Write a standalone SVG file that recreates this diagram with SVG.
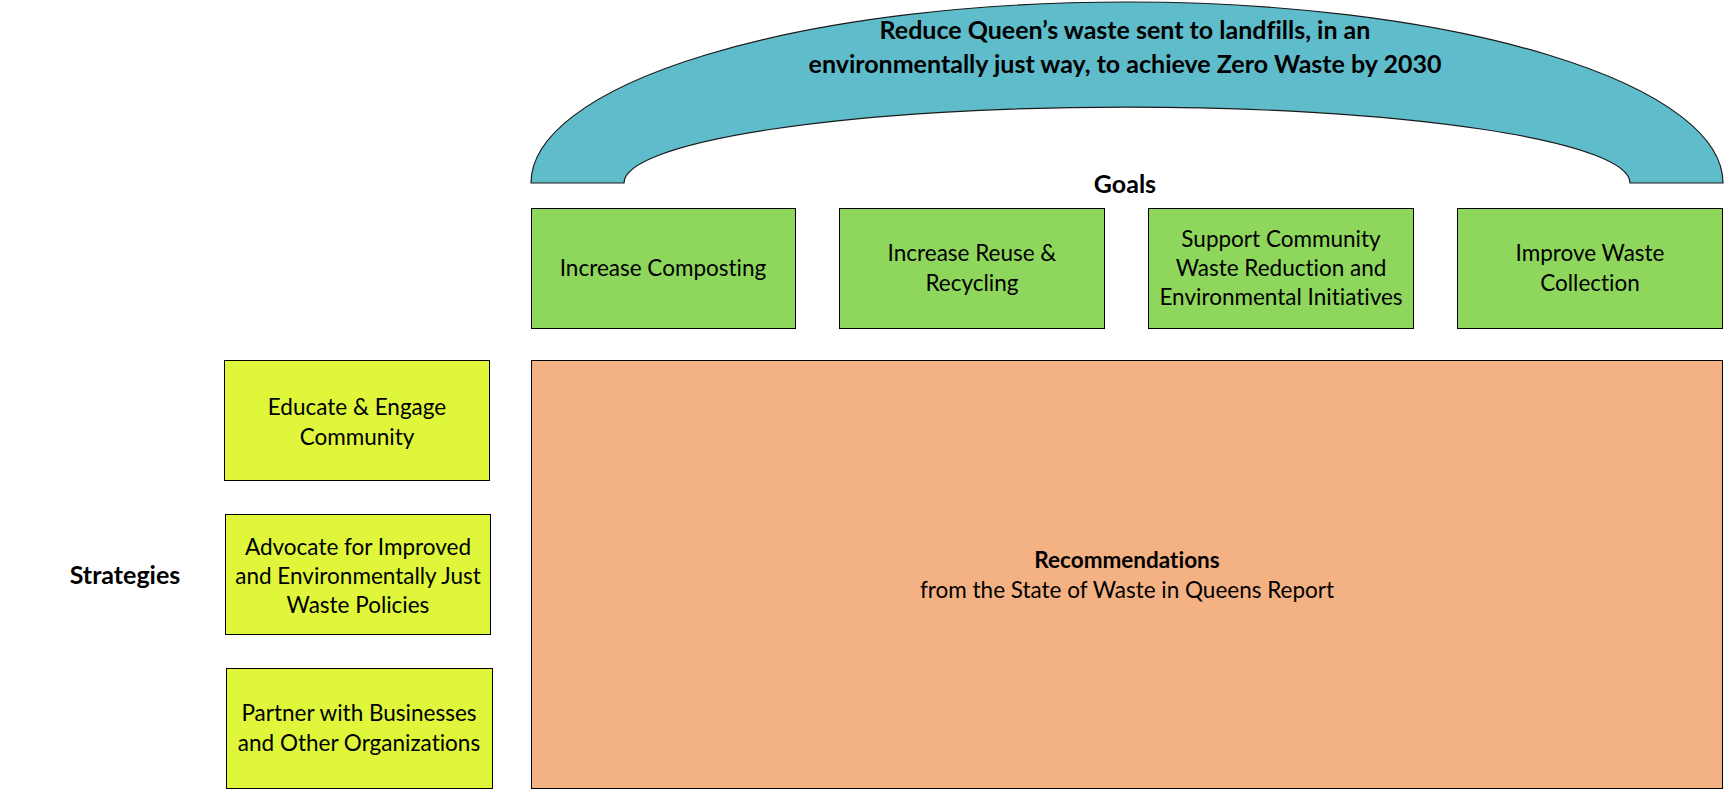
<svg xmlns="http://www.w3.org/2000/svg" width="1725" height="790" viewBox="0 0 1725 790">
<style>
.t{font-family:Lato,"Open Sans","Liberation Sans",sans-serif;fill:#000;text-anchor:middle;font-variant-ligatures:none}
.n{font-size:22.5px}
.b{font-weight:bold}
.goal{fill:#8ED75C;stroke:#000;stroke-width:1}
.strat{fill:#DFF63A;stroke:#000;stroke-width:1}
</style>
<rect width="1725" height="790" fill="#fff"/>
<g id="mission">
<path d="M531,183 A596,181 0 0 1 1723,183 L1630,183 A503,76 0 0 0 624,183 Z" fill="#5EBCCB" stroke="#1a1a1a" stroke-width="1.2"/>
<text class="t b" font-size="25" x="1125" y="39">Reduce Queen’s waste sent to landfills, in an</text>
<text class="t b" font-size="25" x="1125" y="73">environmentally just way, to achieve Zero Waste by 2030</text>
</g>
<g id="goals-label"><text class="t b" font-size="25" x="1125" y="193">Goals</text></g>
<g id="goal1"><rect class="goal" x="531.5" y="208.5" width="264" height="120"/><text class="t n" x="663" y="276">Increase Composting</text></g>
<g id="goal2"><rect class="goal" x="839.5" y="208.5" width="265" height="120"/><text class="t n" x="972" y="261">Increase Reuse &amp;</text><text class="t n" x="972" y="291">Recycling</text></g>
<g id="goal3"><rect class="goal" x="1148.5" y="208.5" width="265" height="120"/><text class="t n" x="1281" y="247">Support Community</text><text class="t n" x="1281" y="276">Waste Reduction and</text><text class="t n" x="1281" y="305">Environmental Initiatives</text></g>
<g id="goal4"><rect class="goal" x="1457.5" y="208.5" width="265" height="120"/><text class="t n" x="1590" y="261">Improve Waste</text><text class="t n" x="1590" y="291">Collection</text></g>
<g id="strategies-label"><text class="t b" font-size="25" x="125" y="584">Strategies</text></g>
<g id="strat1"><rect class="strat" x="224.5" y="360.5" width="265" height="120"/><text class="t n" x="357" y="415">Educate &amp; Engage</text><text class="t n" x="357" y="445">Community</text></g>
<g id="strat2"><rect class="strat" x="225.5" y="514.5" width="265" height="120"/><text class="t n" x="358" y="555">Advocate for Improved</text><text class="t n" x="358" y="584">and Environmentally Just</text><text class="t n" x="358" y="613">Waste Policies</text></g>
<g id="strat3"><rect class="strat" x="226.5" y="668.5" width="266" height="120"/><text class="t n" x="359" y="721">Partner with Businesses</text><text class="t n" x="359" y="751">and Other Organizations</text></g>
<g id="recommendations"><rect x="531.5" y="360.5" width="1191" height="428" fill="#F4B183" stroke="#000" stroke-width="1"/><text class="t b n" x="1127" y="568">Recommendations</text><text class="t n" x="1127" y="598">from the State of Waste in Queens Report</text></g>
<g id="connectors"/>
</svg>
